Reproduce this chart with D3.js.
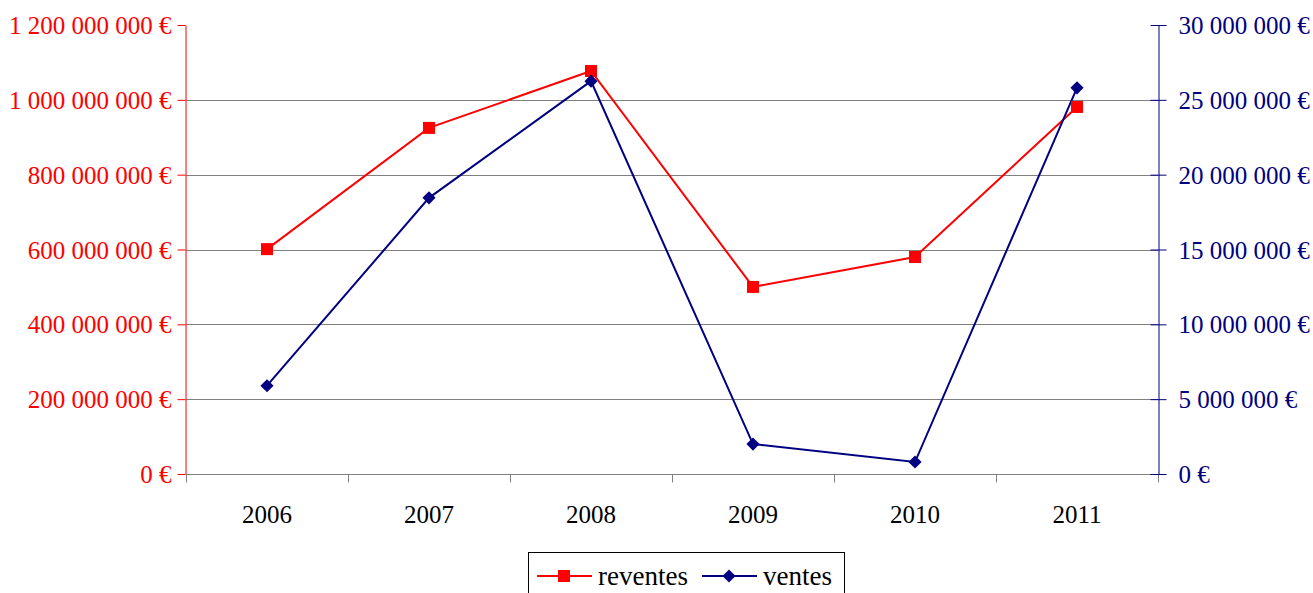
<!DOCTYPE html>
<html>
<head>
<meta charset="utf-8">
<style>
 body { margin: 0; background: #fff; }
 svg { font-family: "Liberation Serif", "Times New Roman", serif; }
 .grid line { stroke: #808080; }
</style>
</head>
<body>
<svg width="1313" height="593"></svg>
<script src="https://cdn.jsdelivr.net/npm/d3@7/dist/d3.min.js"></script>
<script>
// data
var years = ["2006", "2007", "2008", "2009", "2010", "2011"];
var reventes = [601000000, 925000000, 1077000000, 500000000, 580000000, 981000000];
var ventes = [5900000, 18450000, 26250000, 2000000, 800000, 25800000];
var leftTicks = [0, 200000000, 400000000, 600000000, 800000000, 1000000000, 1200000000];
var rightTicks = [0, 5000000, 10000000, 15000000, 20000000, 25000000, 30000000];

var svg = d3.select("svg");
var plotL = 186, plotR = 1158, plotT = 25, plotB = 474;
var labelSize = "25px";

var x = d3.scaleBand().domain(years).range([plotL, plotR]);
var yL = d3.scaleLinear().domain([0, 1200000000]).range([plotB, plotT]);
var yR = d3.scaleLinear().domain([0, 30000000]).range([plotB, plotT]);

function euro(v) {
    return d3.format(",")(v).replace(/,/g, " ") + " €";
}

// gridlines
svg.append("g").attr("class", "grid")
   .selectAll("line").data(leftTicks.slice(1, -1)).enter().append("line")
   .attr("x1", plotL).attr("x2", plotR)
   .attr("y1", function(d){ return Math.round(yL(d)) + 0.5; })
   .attr("y2", function(d){ return Math.round(yL(d)) + 0.5; });

// x axis
var xAxisG = svg.append("g").attr("transform", "translate(0," + (plotB + 0.5) + ")");
xAxisG.append("line").attr("x1", plotL).attr("x2", plotR).attr("stroke", "#808080");
xAxisG.selectAll(".tk").data(years.concat(["end"])).enter().append("line")
   .attr("x1", function(d, i){ return Math.round(plotL + i * x.bandwidth()) + 0.5; })
   .attr("x2", function(d, i){ return Math.round(plotL + i * x.bandwidth()) + 0.5; })
   .attr("y1", 0).attr("y2", 8).attr("stroke", "#808080");
xAxisG.selectAll("text").data(years).enter().append("text")
   .attr("x", function(d){ return x(d) + x.bandwidth() / 2; })
   .attr("y", 48)
   .attr("text-anchor", "middle")
   .style("font-size", labelSize)
   .text(function(d){ return d; });

// left axis
var yAxisL = d3.axisLeft(yL).tickValues(leftTicks).tickSize(8).tickSizeOuter(0).tickPadding(6).tickFormat(euro);
var gL = svg.append("g").attr("transform", "translate(" + (plotL - 0.5) + ",0)").call(yAxisL)
   .attr("font-family", null).attr("font-size", null);
gL.select(".domain").attr("stroke", "#ff0000");
gL.selectAll(".tick line").attr("stroke", "#ff0000");
gL.selectAll(".tick text").attr("fill", "#ff0000").style("font-size", labelSize);

// right axis
var yAxisR = d3.axisRight(yR).tickValues(rightTicks).tickSize(8).tickSizeOuter(0).tickPadding(12).tickFormat(euro);
var gR = svg.append("g").attr("transform", "translate(" + (plotR + 0.5) + ",0)").call(yAxisR)
   .attr("font-family", null).attr("font-size", null);
gR.select(".domain").attr("stroke", "#000080");
gR.selectAll(".tick line").attr("stroke", "#000080").attr("x1", -8);
gR.selectAll(".tick text").attr("fill", "#000080").style("font-size", labelSize);
svg.selectAll(".tick text").attr("dy", "0.34em");

// lines
var cx = function(d, i){ return x(years[i]) + x.bandwidth() / 2; };
var lineL = d3.line().x(cx).y(function(d){ return yL(d); });
var lineR = d3.line().x(cx).y(function(d){ return yR(d); });

svg.append("path").datum(reventes).attr("d", lineL)
   .attr("fill", "none").attr("stroke", "#ff0000").attr("stroke-width", 2);
svg.append("path").datum(ventes).attr("d", lineR)
   .attr("fill", "none").attr("stroke", "#000080").attr("stroke-width", 2);

svg.selectAll(".sq").data(reventes).enter().append("rect")
   .attr("x", function(d, i){ return cx(d, i) - 6; })
   .attr("y", function(d){ return yL(d) - 6; })
   .attr("width", 12).attr("height", 12).attr("fill", "#ff0000");

var diamond = d3.symbol().type(d3.symbolDiamond2).size(110);
svg.selectAll(".dm").data(ventes).enter().append("path")
   .attr("d", diamond)
   .attr("transform", function(d, i){ return "translate(" + cx(d, i) + "," + yR(d) + ")"; })
   .attr("fill", "#000080");

// legend
var lg = svg.append("g");
lg.append("rect").attr("x", 528.5).attr("y", 552.5).attr("width", 316).attr("height", 50)
  .attr("fill", "#fff").attr("stroke", "#000");
var items = [
  { name: "reventes", color: "#ff0000", x: 537, mark: "sq" },
  { name: "ventes", color: "#000080", x: 702, mark: "dm" }
];
items.forEach(function(it){
  lg.append("line").attr("x1", it.x).attr("x2", it.x + 55).attr("y1", 576).attr("y2", 576)
    .attr("stroke", it.color).attr("stroke-width", 2);
  if (it.mark == "sq") {
    lg.append("rect").attr("x", it.x + 21).attr("y", 570).attr("width", 12).attr("height", 12).attr("fill", it.color);
  } else {
    lg.append("path").attr("d", diamond).attr("transform", "translate(" + (it.x + 27) + ",576)").attr("fill", it.color);
  }
  lg.append("text").attr("x", it.x + 61).attr("y", 585).style("font-size", "27px").text(it.name);
});
</script>
</body>
</html>
